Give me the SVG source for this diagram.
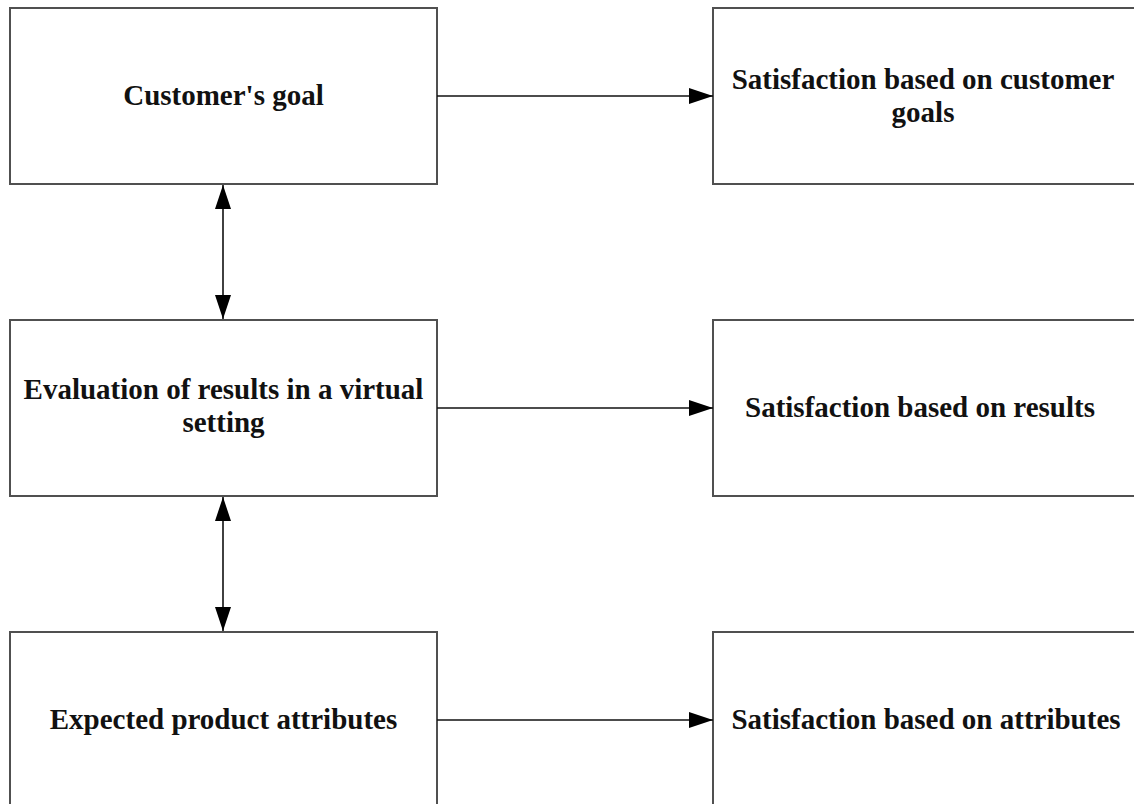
<svg xmlns="http://www.w3.org/2000/svg" width="1134" height="804" viewBox="0 0 1134 804">
  <style>
    .box { fill: #ffffff; stroke: #505050; stroke-width: 2; }
    .lbl { font-family: "Liberation Serif", "Times New Roman", serif; font-weight: bold; font-size: 29px; fill: #111111; text-anchor: middle; }
    .conn { stroke: #111111; stroke-width: 1.6; fill: none; }
  </style>
  <defs>
    <marker id="arrowEnd" viewBox="0 0 24 16" refX="24" refY="8" markerUnits="userSpaceOnUse" markerWidth="24" markerHeight="16" orient="auto">
      <path d="M0,0 L24,8 L0,16 Z" fill="#000000"/>
    </marker>
    <marker id="arrowStart" viewBox="0 0 24 16" refX="24" refY="8" markerUnits="userSpaceOnUse" markerWidth="24" markerHeight="16" orient="auto-start-reverse">
      <path d="M0,0 L24,8 L0,16 Z" fill="#000000"/>
    </marker>
  </defs>
  <rect width="1134" height="804" fill="#ffffff"/>

  <g id="customer-goal">
    <rect class="box" x="10" y="8" width="427" height="176"/>
    <text class="lbl" x="223.5" y="105">Customer's goal</text>
  </g>
  <g id="satisfaction-goals">
    <rect class="box" x="713" y="8" width="427" height="176"/>
    <text class="lbl" x="923" y="89">Satisfaction based on customer</text>
    <text class="lbl" x="923" y="122">goals</text>
  </g>
  <g id="evaluation-virtual">
    <rect class="box" x="10" y="320" width="427" height="176"/>
    <text class="lbl" x="223.5" y="399">Evaluation of results in a virtual</text>
    <text class="lbl" x="223.5" y="432">setting</text>
  </g>
  <g id="satisfaction-results">
    <rect class="box" x="713" y="320" width="427" height="176"/>
    <text class="lbl" x="920" y="417">Satisfaction based on results</text>
  </g>
  <g id="expected-attributes">
    <rect class="box" x="10" y="632" width="427" height="190"/>
    <text class="lbl" x="223.5" y="729">Expected product attributes</text>
  </g>
  <g id="satisfaction-attributes">
    <rect class="box" x="713" y="632" width="427" height="190"/>
    <text class="lbl" x="926" y="729">Satisfaction based on attributes</text>
  </g>

  <g id="connectors">
    <line class="conn" x1="437" y1="96" x2="713" y2="96" marker-end="url(#arrowEnd)"/>
    <line class="conn" x1="437" y1="408" x2="713" y2="408" marker-end="url(#arrowEnd)"/>
    <line class="conn" x1="437" y1="720" x2="713" y2="720" marker-end="url(#arrowEnd)"/>
    <line class="conn" x1="223" y1="185" x2="223" y2="319" marker-start="url(#arrowStart)" marker-end="url(#arrowEnd)"/>
    <line class="conn" x1="223" y1="497" x2="223" y2="631" marker-start="url(#arrowStart)" marker-end="url(#arrowEnd)"/>
  </g>
</svg>
